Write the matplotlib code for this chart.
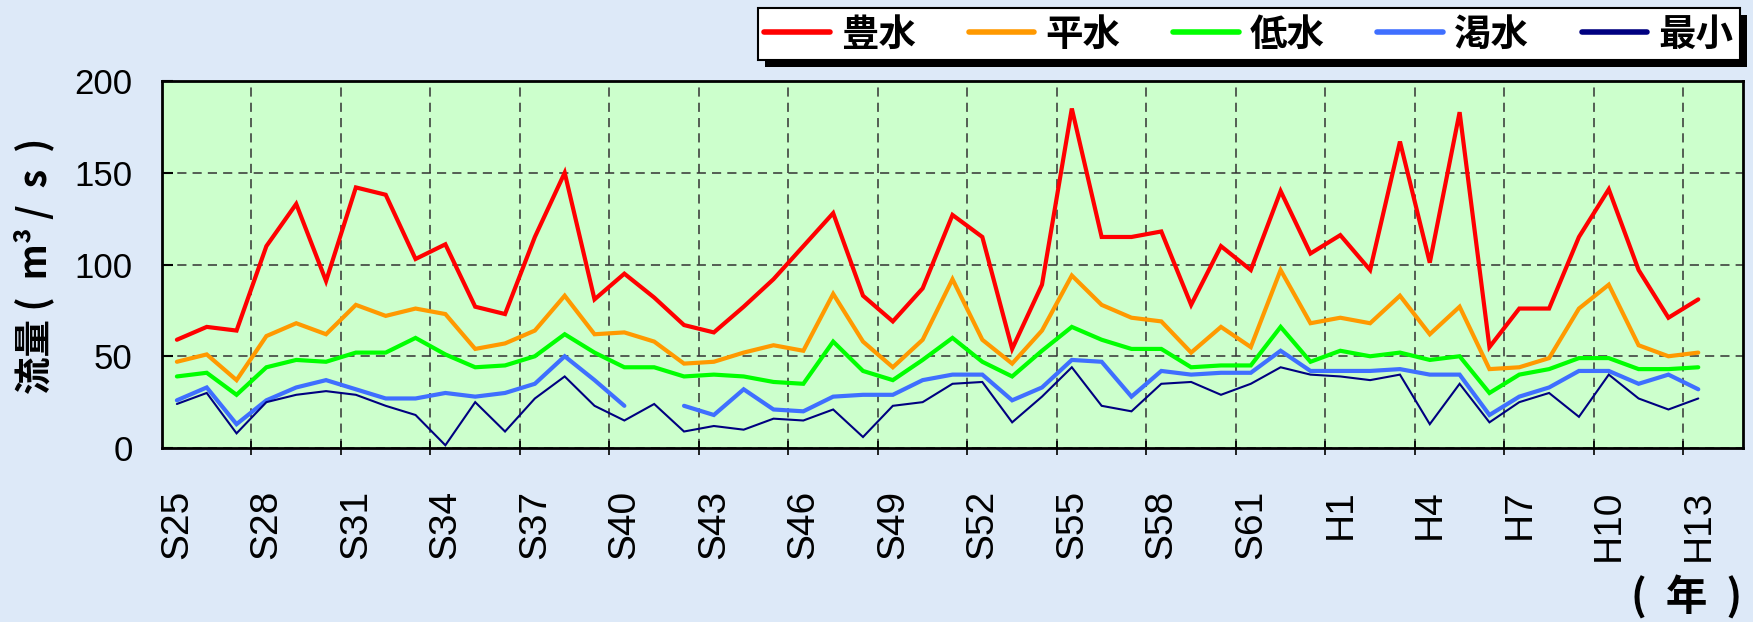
import numpy as np
import matplotlib
matplotlib.use("Agg")
import matplotlib.pyplot as plt
import matplotlib.patheffects as pe
from matplotlib.font_manager import FontProperties

# fiscal years S25 .. H13, plus one empty slot at the end (H14)
years = [f"S{n}" for n in range(25, 64)] + [f"H{n}" for n in range(1, 15)]

houzui = [59, 66, 64, 110, 133, 91, 142, 138, 103, 111, 77, 73, 115, 150, 81, 95,
          82, 67, 63, 77, 92, 110, 128, 83, 69, 87, 127, 115, 54, 89, 185, 115,
          115, 118, 78, 110, 97, 140, 106, 116, 97, 167, 101, 183, 55, 76, 76, 115,
          141, 97, 71, 81]
heisui = [47, 51, 37, 61, 68, 62, 78, 72, 76, 73, 54, 57, 64, 83, 62, 63,
          58, 46, 47, 52, 56, 53, 84, 58, 44, 59, 92, 59, 46, 64, 94, 78,
          71, 69, 52, 66, 55, 97, 68, 71, 68, 83, 62, 77, 43, 44, 49, 76,
          89, 56, 50, 52]
teisui = [39, 41, 29, 44, 48, 47, 52, 52, 60, 51, 44, 45, 50, 62, 52, 44,
          44, 39, 40, 39, 36, 35, 58, 42, 37, 48, 60, 47, 39, 53, 66, 59,
          54, 54, 44, 45, 45, 66, 47, 53, 50, 52, 48, 50, 30, 40, 43, 49,
          49, 43, 43, 44]
kassui = [26, 33, 13, 26, 33, 37, 32, 27, 27, 30, 28, 30, 35, 50, 37, 23,
          np.nan, 23, 18, 32, 21, 20, 28, 29, 29, 37, 40, 40, 26, 33, 48, 47,
          28, 42, 40, 41, 41, 53, 42, 42, 42, 43, 40, 40, 18, 28, 33, 42,
          42, 35, 40, 32]
saisho = [24, 30, 8, 25, 29, 31, 29, 23, 18, 1.5, 25, 9, 27, 39, 23, 15,
          24, 9, 12, 10, 16, 15, 21, 6, 23, 25, 35, 36, 14, 28, 44, 23,
          20, 35, 36, 29, 35, 44, 40, 39, 37, 40, 13, 35, 14, 25, 30, 17,
          40, 27, 21, 27]

series = [
    ("豊水", houzui, "#ff0000", 3.0),
    ("平水", heisui, "#ff9900", 3.0),
    ("低水", teisui, "#00ff00", 3.0),
    ("渇水", kassui, "#3f6fff", 3.0),
    ("最小", saisho, "#000080", 1.5),
]

jp = ["Noto Sans CJK JP", "DejaVu Sans"]
plt.rcParams["font.family"] = ["Liberation Sans", "DejaVu Sans"]

fig = plt.figure(figsize=(17.53, 6.22), dpi=100, facecolor="#dde9f8")
ax = fig.add_axes([0.0924, 0.2797, 0.9019, 0.5901])
ax.set_facecolor("#ccffcc")

x = np.arange(len(houzui))
handles = []
for name, vals, color, lw in series:
    h, = ax.plot(x, vals, color=color, lw=lw, label=name,
                 solid_joinstyle="miter", solid_capstyle="round")
    handles.append(h)

ax.set_xlim(-0.5, len(years) - 0.5)
ax.set_ylim(0, 200)
ax.set_yticks([0, 50, 100, 150, 200])

# category boundaries every 3 years carry the grid, labels sit on the centres
bounds = np.arange(2.5, len(years) - 1, 3)
ax.set_xticks(bounds)
ax.set_xticklabels([])
ax.set_xticks(np.arange(0, len(years) - 1, 3), minor=True)
ax.set_xticklabels(years[0:len(years) - 1:3], minor=True, rotation=90,
                   fontsize=28)
ax.tick_params(axis="x", which="minor", length=0, pad=30)
ax.tick_params(axis="x", which="major", direction="inout", length=10,
               width=1.2)
ax.tick_params(axis="y", direction="in", length=8, width=1.5,
               labelsize=25, pad=21)

ax.grid(True, which="major", color="#333333", lw=1.1, ls=(0, (6, 4)))
for s in ax.spines.values():
    s.set_linewidth(2)
    s.set_color("black")

fig.text(0.0195, 0.573, "流量 (  m³ /  s  )", rotation=90, ha="center",
         va="center", family=jp, fontsize=27, fontweight="bold")
fig.text(0.962, 0.039, "(  年  )", ha="center", va="center", family=jp,
         fontsize=30, fontweight="bold")

leg = fig.legend(handles=handles, ncol=5, loc="upper right",
                 bbox_to_anchor=(0.9926, 0.987), borderaxespad=0,
                 prop=FontProperties(family=jp, weight="bold", size=27),
                 handlelength=1.75, handletextpad=0.3, columnspacing=1.4,
                 borderpad=0.17, fancybox=False, framealpha=1,
                 edgecolor="black")
leg.get_frame().set_linewidth(1.5)
leg.get_frame().set_path_effects([
    pe.SimplePatchShadow(offset=(5, -5), shadow_rgbFace="black", alpha=1),
    pe.Normal()])
for line in leg.get_lines():
    line.set_linewidth(4)

fig.savefig("out.png", dpi=100, facecolor=fig.get_facecolor())
